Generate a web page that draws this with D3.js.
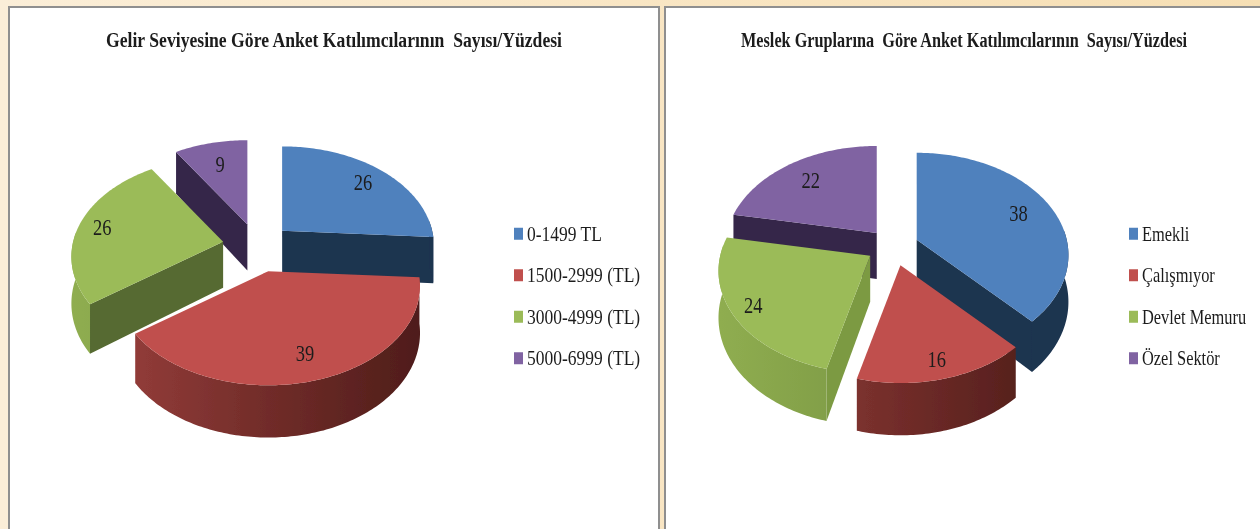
<!DOCTYPE html>
<html>
<head>
<meta charset="utf-8">
<script src="https://cdnjs.cloudflare.com/ajax/libs/d3/7.8.5/d3.min.js"></script>
<style>
  html, body { margin: 0; padding: 0; background: #fbeed6; overflow: hidden; }
  text { font-family: "Liberation Serif", serif; fill: #1c1c1c; white-space: pre; }
</style>
</head>
<body>
<script>
// left chart
const incomeTitle = "Gelir Seviyesine Göre Anket Katılımcılarının  Sayısı/Yüzdesi"
const incomeLabels = ["0-1499 TL", "1500-2999 (TL)", "3000-4999 (TL)", "5000-6999 (TL)"]
const incomeValues = [26, 39, 26, 9]
const incomeExplode = [0.23, 0.27, 0.23, 0.23]
const incomeLabelRadius = [0.8, 0.78, 0.84, 0.72]

// right chart
const jobTitle = "Meslek Gruplarına  Göre Anket Katılımcılarının  Sayısı/Yüzdesi"
const jobLabels = ["Emekli", "Çalışmıyor", "Devlet Memuru", "Özel Sektör"]
const jobValues = [38, 16, 24, 22]
const jobExplode = [0.17, 0.2, 0.18, 0.17]
const jobLabelRadius = [0.76, 0.85, 0.86, 0.75]

const topColors = ["#4f81bd", "#c0504d", "#9bbb59", "#8064a2"]
const wallColors = ["#1d3450", "#4f1d1a", "#5c7033", "#35264a"]

const w = 1260
const h = 529

// pie look: radius on screen and perspective of the lid
const rx = 150
const persp = 0.15
const depth = 46

const svg = d3.select("body")
  .append("svg")
  .attr("width", w)
  .attr("height", h)
  .style("display", "block")

const defs = svg.append("defs")
defs.append("filter")
  .attr("id", "soft")
  .attr("x", "-5%").attr("y", "-5%").attr("width", "110%").attr("height", "110%")
  .append("feGaussianBlur")
  .attr("stdDeviation", 0.55)

const bg = defs.append("linearGradient").attr("id", "paper")
  .attr("x1", 0).attr("x2", 1).attr("y1", 0).attr("y2", 0)
bg.append("stop").attr("offset", "0%").attr("stop-color", "#fbeed8")
bg.append("stop").attr("offset", "50%").attr("stop-color", "#f9e6c4")
bg.append("stop").attr("offset", "100%").attr("stop-color", "#f6dfb4")

svg.append("rect").attr("width", w).attr("height", h).attr("fill", "url(#paper)")

const root = svg.append("g").attr("filter", "url(#soft)")

const line = d3.line()
const pie = d3.pie().sort(null).value(d => d)

function drawPanel(x, width) {
  root.append("rect")
    .attr("x", x)
    .attr("y", 7)
    .attr("width", width)
    .attr("height", h + 20)
    .attr("fill", "#ffffff")
    .attr("stroke", "#8f8f8f")
    .attr("stroke-width", 2)
}

function drawPie(cfg) {
  const g = root.append("g")
  const ry = cfg.ry

  // angle from 12 o'clock, clockwise, radius 0..1 -> offset from the slice apex
  const project = (a, r, down) => {
    const X = Math.sin(a) * r
    const Y = Math.cos(a) * r
    const p = 1 + persp * Y
    const d = down ? depth / (1 + 0.12 * Y) : 0
    return [rx * X / p, -ry * Y / p + d]
  }

  const slices = pie(cfg.values).map((s, i) => {
    const mid = (s.startAngle + s.endAngle) / 2
    return { ...s, i, mid,
      ax: cfg.cx + cfg.explode[i] * rx * Math.sin(mid),
      ay: cfg.cy - cfg.explode[i] * ry * Math.cos(mid) }
  })

  // far slices first, near ones paint over them
  const order = slices.slice().sort((a, b) => Math.cos(b.mid) - Math.cos(a.mid))

  order.forEach(s => {
    const sg = g.append("g").attr("transform", `translate(${s.ax},${s.ay})`)
    const steps = d3.range(s.startAngle, s.endAngle, Math.PI / 180).concat(s.endAngle)

    // cut walls, only the ones turned toward the viewer
    const cuts = []
    if (Math.sin(s.endAngle) > 0.01) cuts.push(s.endAngle)
    if (Math.sin(s.startAngle) < -0.01) cuts.push(s.startAngle)
    cuts.forEach(a => {
      const q = [project(a, 0, false), project(a, 1, false), project(a, 1, true), project(a, 0, true)]
      sg.append("path")
        .attr("d", line(q) + "Z")
        .attr("fill", s.i === 2 ? cfg.greenCut : wallColors[s.i])
    })

    // round outer wall, shaded from left to right
    const near = steps.filter(a => Math.cos(a) < 0.12)
    if (near.length > 1) {
      const id = `wall-${cfg.id}-${s.i}`
      const mix = t => d3.interpolateRgb(wallColors[s.i], topColors[s.i])(t)
      const stops = s.i === 2 ? ["#8fad50", "#7d9a45", "#647d36"] : [mix(0.62), mix(0.3), wallColors[s.i]]
      const grad = defs.append("linearGradient")
        .attr("id", id)
        .attr("gradientUnits", "userSpaceOnUse")
        .attr("x1", -rx).attr("x2", rx)
        .attr("y1", 0).attr("y2", 0)
      stops.forEach((c, k) => grad.append("stop").attr("offset", k / 2).attr("stop-color", c))

      const outer = near.map(a => project(a, 1, false))
        .concat(near.slice().reverse().map(a => project(a, 1, true)))
      sg.append("path")
        .attr("d", line(outer) + "Z")
        .attr("fill", s.i === 0 || s.i === 3 ? wallColors[s.i] : `url(#${id})`)
    }

    // lid
    const rim = steps.map(a => project(a, 1, false))
    sg.append("path")
      .attr("d", line([[0, 0], ...rim]) + "Z")
      .attr("fill", topColors[s.i])

    const lp = project(s.mid, cfg.labelRadius[s.i], false)
    sg.append("text")
      .attr("transform", `translate(${lp[0]},${lp[1]}) scale(1,1.25)`)
      .attr("text-anchor", "middle")
      .attr("dy", "0.35em")
      .attr("font-size", 18.5)
      .text(cfg.values[s.i])
  })

  // title
  g.append("text")
    .attr("transform", `translate(${cfg.titleX},47) scale(1,1.2)`)
    .attr("font-size", 17)
    .attr("font-weight", "bold")
    .attr("textLength", cfg.titleW)
    .attr("lengthAdjust", "spacingAndGlyphs")
    .text(cfg.title)

  // legend
  const legendY = d3.scaleBand()
    .domain(cfg.labels)
    .range([213, 379])

  const legend = g.selectAll(".legend")
    .data(cfg.labels)
    .enter()
    .append("g")
    .attr("class", "legend")
    .attr("transform", d => `translate(${cfg.legendX},${legendY(d) + legendY.bandwidth() / 2})`)

  legend.append("rect")
    .attr("x", -5)
    .attr("y", -6)
    .attr("width", 9)
    .attr("height", 12)
    .attr("fill", (d, i) => topColors[i])

  legend.append("text")
    .attr("transform", "translate(8,0) scale(1,1.25)")
    .attr("dy", "0.33em")
    .attr("font-size", cfg.legendSize)
    .text(d => d)
}

drawPanel(9, 650)
drawPanel(665, 620)

drawPie({
  id: "income", title: incomeTitle, labels: incomeLabels, values: incomeValues,
  explode: incomeExplode, labelRadius: incomeLabelRadius, greenCut: "#566a30", ry: 97,
  cx: 257, cy: 246, titleX: 106, titleW: 456, legendX: 519, legendSize: 17.5
})

drawPie({
  id: "job", title: jobTitle, labels: jobLabels, values: jobValues,
  explode: jobExplode, labelRadius: jobLabelRadius, greenCut: "#7c9a42", ry: 100,
  cx: 893, cy: 246, titleX: 741, titleW: 446, legendX: 1134, legendSize: 16.4
})
</script>
</body>
</html>
